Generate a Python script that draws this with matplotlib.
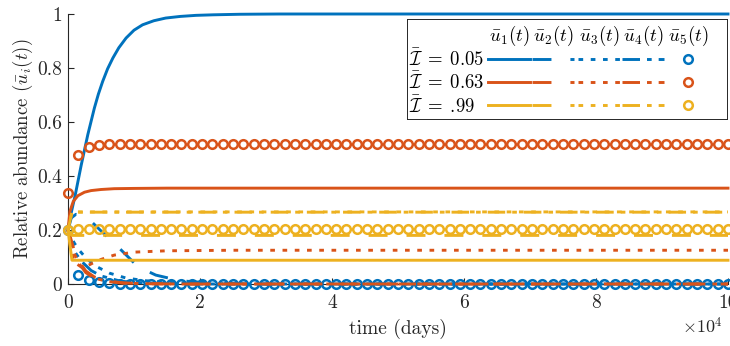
import numpy as np
import matplotlib
matplotlib.use('Agg')
import matplotlib.pyplot as plt

plt.rcParams['font.family'] = 'serif'
plt.rcParams['font.serif'] = ['cmr10']
plt.rcParams['mathtext.fontset'] = 'cm'
plt.rcParams['axes.unicode_minus'] = False

# time in units of 1e4 days
T_SCALE = 1e4

# Ibar = 0.05 (blue)
t_b1 = [0, 0.05, 0.11, 0.2, 0.3, 0.4, 0.46, 0.525, 0.6, 0.68, 0.77, 0.88, 1.0, 1.13, 1.3, 1.48, 1.7, 1.94, 2.2, 2.6, 3.2, 10]
u_b1 = [0.2, 0.265, 0.33, 0.44, 0.553, 0.652, 0.703, 0.75, 0.797, 0.837, 0.875, 0.911, 0.94, 0.96, 0.975, 0.985, 0.991, 0.995, 0.997, 0.999, 1.0, 1.0]
t_b2 = [0, 0.05, 0.12, 0.2, 0.35, 0.55, 0.78, 1.06, 1.33, 1.7, 2.2, 3.0, 10]
u_b2 = [0.2, 0.245, 0.258, 0.255, 0.232, 0.185, 0.132, 0.064, 0.033, 0.012, 0.003, 0, 0]
t_b3 = [0, 0.05, 0.1, 0.17, 0.27, 0.42, 0.63, 0.88, 1.18, 1.6, 2.2, 3, 10]
u_b3 = [0.2, 0.172, 0.15, 0.125, 0.097, 0.066, 0.04, 0.022, 0.012, 0.005, 0.001, 0, 0]
t_b4 = [0, 0.05, 0.1, 0.2, 0.35, 0.5, 0.8, 1.2, 2, 10]
u_b4 = [0.2, 0.15, 0.12, 0.085, 0.05, 0.03, 0.01, 0.003, 0, 0]
u_b5 = [0.2, 0.033, 0.015, 0.007, 0.003, 0.001] + [0.0] * 59

# Ibar = 0.63 (orange)
t_o1 = [0, 0.03, 0.08, 0.15, 0.25, 0.35, 0.5, 0.7, 1.0, 1.5, 10]
u_o1 = [0.2, 0.27, 0.306, 0.327, 0.34, 0.346, 0.35, 0.353, 0.354, 0.355, 0.355]
t_o2 = [0, 0.04, 0.1, 0.17, 0.27, 0.4, 0.6, 0.85, 1.2, 1.7, 2.5, 10]
u_o2 = [0.2, 0.17, 0.12, 0.083, 0.048, 0.026, 0.011, 0.004, 0.001, 0, 0, 0]
t_o3 = [0, 0.05, 0.1, 0.2, 0.3, 0.45, 0.7, 1.0, 1.5, 2.5, 10]
u_o3 = [0.2, 0.12, 0.08, 0.063, 0.068, 0.087, 0.107, 0.118, 0.123, 0.125, 0.125]
t_o4 = [0, 0.04, 0.1, 0.17, 0.27, 0.4, 0.6, 0.85, 1.2, 1.7, 2.5, 10]
u_o4 = [0.2, 0.16, 0.11, 0.075, 0.042, 0.022, 0.009, 0.003, 0.001, 0, 0, 0]
u_o5 = [0.337, 0.477, 0.506, 0.514, 0.518, 0.519] + [0.52] * 59

# Ibar = .99 (yellow)
t_y1 = [0, 0.06, 10]
u_y1 = [0.2, 0.088, 0.088]
t_y2 = [0, 0.06, 10]
u_y2 = [0.2, 0.18, 0.18]
t_y3 = [0, 0.06, 10]
u_y3 = [0.2, 0.267, 0.267]
t_y4 = [0, 0.06, 10]
u_y4 = [0.2, 0.266, 0.266]
u_y5 = [0.2] + [0.205] * 64

# sampling times of the u5 markers
t_marks = np.linspace(0, 10, 65)

groups = [
    ('#0072BD', [(t_b1, u_b1), (t_b2, u_b2), (t_b3, u_b3), (t_b4, u_b4)], u_b5),
    ('#D95319', [(t_o1, u_o1), (t_o2, u_o2), (t_o3, u_o3), (t_o4, u_o4)], u_o5),
    ('#EDB120', [(t_y1, u_y1), (t_y2, u_y2), (t_y3, u_y3), (t_y4, u_y4)], u_y5),
]
row_labels = [r'$\bar{\mathcal{I}}\;=\;$0.05', r'$\bar{\mathcal{I}}\;=\;$0.63', r'$\bar{\mathcal{I}}\;=\;$.99']
col_labels = [r'$\bar{u}_1(t)$', r'$\bar{u}_2(t)$', r'$\bar{u}_3(t)$', r'$\bar{u}_4(t)$', r'$\bar{u}_5(t)$']
x_ticks = [0, 2, 4, 6, 8, 10]
x_tick_labels = ['0', '2', '4', '6', '8', '10']
y_ticks = [0, 0.2, 0.4, 0.6, 0.8, 1]
y_tick_labels = ['0', '0.2', '0.4', '0.6', '0.8', '1']

LW = 2.1
FS = 14
styles = [
    dict(linestyle='-'),
    dict(linestyle=(0, (6.5, 6.5))),
    dict(linestyle=(0, (1.6, 2.6))),
    dict(linestyle=(0, (6.0, 2.4, 1.6, 2.4))),
]
AX_COLOR = '#262626'

fig = plt.figure(figsize=(7.3, 3.46), dpi=100)
ax = fig.add_axes([68 / 730, 1 - 284 / 346, 660 / 730, 270 / 346])

for color, lines, u5 in groups:
    for (t, u), st in zip(lines, styles):
        ax.plot(np.array(t) * T_SCALE, u, color=color, lw=LW, clip_on=False, zorder=3, **st)
    ax.plot(t_marks * T_SCALE, u5, 'o', color=color, mfc='none', ms=6.2, mew=1.8,
            clip_on=False, zorder=3)

ax.set_xlim(0, 10 * T_SCALE)
ax.set_ylim(0, 1)
ax.set_xticks(np.array(x_ticks) * T_SCALE)
ax.set_xticklabels(x_tick_labels)
ax.set_yticks(y_ticks)
ax.set_yticklabels(y_tick_labels)
for s in ['top', 'right']:
    ax.spines[s].set_visible(False)
for s in ['left', 'bottom']:
    ax.spines[s].set_color(AX_COLOR)
    ax.spines[s].set_linewidth(0.8)
ax.tick_params(direction='in', length=4.5, width=0.8, color=AX_COLOR,
               labelcolor=AX_COLOR, labelsize=FS)
ax.tick_params(axis='x', pad=7)
ax.tick_params(axis='y', pad=4)
ax.set_xlabel('time (days)', fontsize=FS, color=AX_COLOR, labelpad=5)
ax.set_ylabel(r'Relative abundance $(\bar{u}_i(t))$', fontsize=13.5, color=AX_COLOR, labelpad=2)
ax.text(0.992, -0.155, r'$\times10^{4}$', transform=ax.transAxes, ha='right', va='center',
        fontsize=13, color=AX_COLOR)

# table-style legend: rows = Ibar, columns = u1..u5
leg = fig.add_axes([407 / 730, 1 - 119 / 346, 320 / 730, 100 / 346])
leg.set_xlim(0, 320)
leg.set_ylim(100, 0)
leg.set_xticks([])
leg.set_yticks([])
for s in leg.spines.values():
    s.set_color(AX_COLOR)
    s.set_linewidth(0.7)
col_x = [102, 146, 192, 236, 281]
row_y = [39.5, 62.7, 86]
for cx, lab in zip(col_x, col_labels):
    leg.text(cx, 16.5, lab, ha='center', va='center', fontsize=13.5, color='black')
for (color, lines, u5), ry, lab in zip(groups, row_y, row_labels):
    leg.text(2.0, ry, lab, ha='left', va='center', fontsize=13.5, color='black')
    for cx, st in zip(col_x[:4], styles):
        leg.plot([cx - 21, cx + 21], [ry, ry], color=color, lw=LW, **st)
    leg.plot([col_x[4]], [ry], 'o', color=color, mfc='none', ms=6.2, mew=1.8)

fig.savefig('out.png', dpi=100)
